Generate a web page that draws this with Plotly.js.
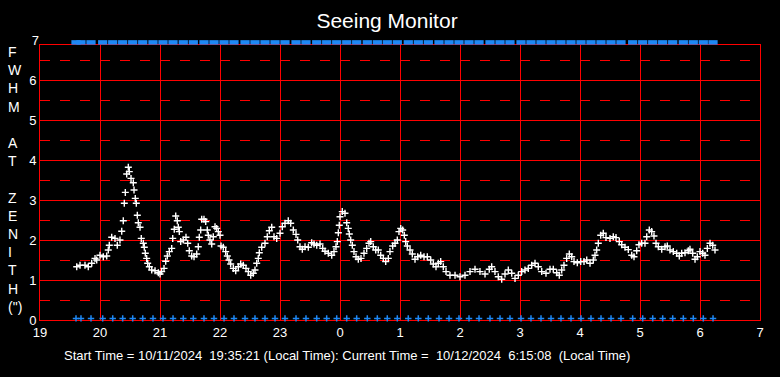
<!DOCTYPE html>
<html>
<head>
<meta charset="utf-8">
<script src="https://cdn.plot.ly/plotly-3.0.1.min.js"></script>
<style>html,body{margin:0;padding:0;background:#000;}#chart{width:780px;height:377px;}</style>
</head>
<body>
<div id="chart"></div>
<script>
// Observation time (decimal hours, past midnight continues as 24+)
const obsTime = [
19.612,19.667,19.750,19.805,19.862,19.917,19.945,20.000,20.055,20.112,
20.138,20.155,20.195,20.250,20.288,20.333,20.362,20.388,20.405,20.422,
20.445,20.472,20.488,20.517,20.555,20.567,20.588,20.605,20.622,20.638,
20.667,20.688,20.722,20.738,20.755,20.778,20.795,20.822,20.862,20.917,
20.972,21.000,21.028,21.067,21.095,21.122,21.155,21.195,21.212,21.238,
21.262,21.288,21.305,21.322,21.345,21.388,21.433,21.462,21.488,21.528,
21.567,21.612,21.638,21.655,21.678,21.695,21.733,21.762,21.788,21.805,
21.833,21.862,21.888,21.917,21.945,21.972,22.000,22.017,22.055,22.095,
22.122,22.150,22.178,22.222,22.262,22.305,22.345,22.388,22.433,22.472,
22.512,22.555,22.583,22.612,22.638,22.655,22.695,22.750,22.788,22.822,
22.862,22.900,22.945,23.000,23.038,23.083,23.138,23.178,23.222,23.267,
23.295,23.333,23.372,23.417,23.472,23.528,23.567,23.612,23.667,23.712,
23.750,23.805,23.862,23.900,23.933,23.955,23.972,23.988,24.000,24.038,
24.083,24.112,24.138,24.155,24.178,24.205,24.233,24.267,24.305,24.350,
24.400,24.445,24.483,24.512,24.555,24.595,24.638,24.678,24.722,24.762,
24.805,24.833,24.878,24.917,24.955,24.983,25.012,25.045,25.072,25.095,
25.122,25.167,25.205,25.250,25.295,25.345,25.400,25.455,25.512,25.555,
25.600,25.638,25.678,25.722,25.767,25.833,25.917,26.000,26.083,26.167,
26.250,26.333,26.417,26.488,26.528,26.583,26.638,26.695,26.750,26.805,
26.862,26.917,26.972,27.028,27.083,27.138,27.195,27.250,27.305,27.362,
27.433,27.500,27.555,27.612,27.655,27.695,27.733,27.778,27.822,27.862,
27.900,27.955,28.012,28.067,28.112,28.167,28.222,28.250,28.278,28.305,
28.345,28.388,28.433,28.500,28.555,28.600,28.655,28.695,28.750,28.805,
28.862,28.900,28.945,28.983,29.028,29.083,29.112,29.155,29.195,29.233,
29.267,29.305,29.362,29.417,29.455,29.500,29.555,29.612,29.655,29.695,
29.750,29.805,29.833,29.878,29.917,29.955,30.000,30.045,30.083,30.122,
30.167,30.212,30.250
];
// FWHM at zenith (arcsec)
const fwhm = [
1.33,1.37,1.37,1.33,1.42,1.54,1.50,1.62,1.58,1.60,
1.75,1.87,2.07,2.04,1.87,2.00,2.22,2.48,2.92,3.19,
3.65,3.82,3.71,3.54,3.43,3.25,3.04,2.92,2.62,2.43,
2.32,2.04,1.92,1.82,1.67,1.54,1.42,1.33,1.25,1.23,
1.18,1.15,1.21,1.29,1.47,1.60,1.71,1.79,2.04,2.27,
2.60,2.48,2.32,2.21,1.96,2.00,2.07,1.92,1.73,1.60,
1.58,1.65,1.83,2.07,2.25,2.52,2.52,2.46,2.25,2.12,
2.00,1.90,2.08,2.33,2.29,2.21,2.12,1.85,1.82,1.71,
1.60,1.50,1.40,1.29,1.23,1.33,1.40,1.37,1.29,1.21,
1.12,1.17,1.25,1.42,1.54,1.68,1.82,1.92,2.08,2.23,
2.32,2.08,2.04,2.17,2.33,2.42,2.48,2.42,2.25,2.14,
2.00,1.83,1.77,1.83,1.82,1.93,1.90,1.87,1.90,1.79,
1.72,1.67,1.62,1.71,1.83,1.96,2.18,2.37,2.58,2.71,
2.67,2.43,2.29,2.15,2.00,1.87,1.71,1.58,1.52,1.54,
1.67,1.79,1.92,1.96,1.83,1.75,1.75,1.62,1.54,1.46,
1.54,1.71,1.85,1.92,2.00,2.21,2.29,2.25,2.12,1.96,
1.85,1.75,1.65,1.52,1.58,1.62,1.58,1.58,1.50,1.40,
1.33,1.42,1.46,1.33,1.21,1.12,1.12,1.08,1.12,1.21,
1.27,1.21,1.15,1.27,1.33,1.21,1.08,1.02,1.15,1.25,
1.17,1.04,1.12,1.21,1.25,1.29,1.37,1.42,1.33,1.21,
1.17,1.27,1.27,1.18,1.12,1.25,1.37,1.54,1.65,1.58,
1.46,1.43,1.46,1.46,1.50,1.42,1.50,1.62,1.75,1.92,
2.12,2.17,2.06,2.04,2.08,2.06,1.96,1.88,1.82,1.76,
1.62,1.58,1.73,1.88,1.92,1.92,2.08,2.25,2.21,2.10,
1.92,1.83,1.77,1.83,1.85,1.75,1.71,1.67,1.60,1.67,
1.68,1.73,1.77,1.67,1.52,1.58,1.71,1.67,1.62,1.79,
1.92,1.87,1.75
];
// Times of the status flags (blue marks at the top and bottom)
const flagTimes = [
19.600,19.683,19.850,20.045,20.212,20.378,20.545,20.712,20.883,21.050,
21.217,21.388,21.555,21.733,21.900,22.067,22.233,22.417,22.583,22.750,
22.917,23.083,23.267,23.433,23.612,23.778,23.945,24.112,24.278,24.455,
24.622,24.788,24.955,25.138,25.305,25.472,25.650,25.817,25.983,26.150,
26.317,26.500,26.667,26.833,27.017,27.183,27.350,27.517,27.683,27.850,
28.017,28.183,28.350,28.517,28.683,28.878,29.045,29.212,29.378,29.545,
29.722,29.888,30.055,30.217
];
const topFlagLevel = 6.94;
const bottomFlagLevel = 0.04;
const xTickVals = [19,20,21,22,23,24,25,26,27,28,29,30,31];
const xTickText = ["19","20","21","22","23","0","1","2","3","4","5","6","7"];
const yTickVals = [0,1,2,3,4,5,6];
const yTickText = ["0","1","2","3","4","5","6"];
const yTopTickVals = [7];
const yTopTickText = ["7"];
const yTitleLines = ["F","W","H","M","\u00a0","A","T","\u00a0","Z","E","N","I","T","H","(\")"];
const footerText = "Start Time =\u00a010/11/2024\u00a0\u00a019:35:21 (Local Time): Current Time =\u00a0\u00a010/12/2024\u00a0\u00a06:15:08\u00a0\u00a0(Local Time)";

const FONT = "Liberation Sans, Arial, Helvetica, sans-serif";
const BLUE = "#1e88f5";

const traces = [
  {
    x: obsTime, y: fwhm, xaxis: "x", yaxis: "y",
    type: "scatter", mode: "markers", cliponaxis: false,
    marker: {symbol: "cross-thin", size: 5, line: {color: "#ffffff", width: 1.4}},
    hoverinfo: "skip"
  },
  {
    x: flagTimes, y: flagTimes.map(() => topFlagLevel), xaxis: "x2", yaxis: "y2",
    type: "scatter", mode: "markers", cliponaxis: false,
    marker: {symbol: "line-ew", size: 6.6, line: {color: BLUE, width: 4.5}},
    hoverinfo: "skip"
  },
  {
    x: flagTimes, y: flagTimes.map(() => bottomFlagLevel), xaxis: "x2", yaxis: "y2",
    type: "scatter", mode: "markers", cliponaxis: false,
    marker: {symbol: "cross-thin", size: 4.6, line: {color: BLUE, width: 1.5}},
    hoverinfo: "skip"
  }
];

const layout = {
  width: 780, height: 377,
  paper_bgcolor: "#000", plot_bgcolor: "rgba(0,0,0,0)",
  showlegend: false,
  margin: {l: 40, r: 20, t: 40, b: 57, pad: 0, autoexpand: false},
  title: {
    text: "Seeing Monitor",
    font: {family: FONT, size: 21, color: "#ffffff"},
    x: 387/780, xanchor: "center", xref: "container",
    y: 1 - 21/377, yanchor: "middle", yref: "container"
  },
  xaxis: {
    range: [19, 31], domain: [0, 1], fixedrange: true, anchor: "y",
    tickmode: "array", tickvals: xTickVals, ticktext: xTickText,
    ticks: "", showgrid: true, gridcolor: "#ff0000", gridwidth: 1,
    zeroline: false, showline: true, mirror: true, linecolor: "#ff0000", linewidth: 1,
    tickfont: {family: FONT, size: 13, color: "#ffffff"}
  },
  yaxis: {
    range: [0, 6.875], domain: [0, 275/280], fixedrange: true, anchor: "x",
    tickmode: "array", tickvals: yTickVals, ticktext: yTickText,
    ticks: "", showgrid: true, gridcolor: "#ff0000", gridwidth: 1,
    zeroline: false, showline: true, mirror: true, linecolor: "#ff0000", linewidth: 1,
    tickfont: {family: FONT, size: 13, color: "#ffffff"},
    minor: {dtick: 0.5, tick0: 0, showgrid: true, gridcolor: "#ff0000", gridwidth: 1, griddash: "10px,10px", ticks: ""}
  },
  xaxis2: {
    range: [19, 31], domain: [0, 1], fixedrange: true, anchor: "y2",
    showticklabels: false, ticks: "", showgrid: false, zeroline: false, showline: false
  },
  yaxis2: {
    range: [0, 7], domain: [0, 1], fixedrange: true, anchor: "x2",
    tickmode: "array", tickvals: yTopTickVals, ticktext: yTopTickText,
    ticks: "", showgrid: false, zeroline: false, showline: false,
    tickfont: {family: FONT, size: 13, color: "#ffffff"}
  },
  annotations: [
    {
      text: yTitleLines.join("<br>"), xref: "paper", yref: "paper",
      x: (6 - 40)/720, y: (320 - 179.5)/280, xanchor: "left", yanchor: "middle", align: "left",
      showarrow: false, font: {family: FONT, size: 14, color: "#ffffff"}
    },
    {
      text: footerText, xref: "paper", yref: "paper",
      x: (62 - 40)/720, y: (320 - 355)/280, xanchor: "left", yanchor: "middle",
      showarrow: false, font: {family: FONT, size: 13, color: "#ffffff"}
    }
  ]
};

Plotly.newPlot("chart", traces, layout, {staticPlot: true, displayModeBar: false});
</script>
</body>
</html>
